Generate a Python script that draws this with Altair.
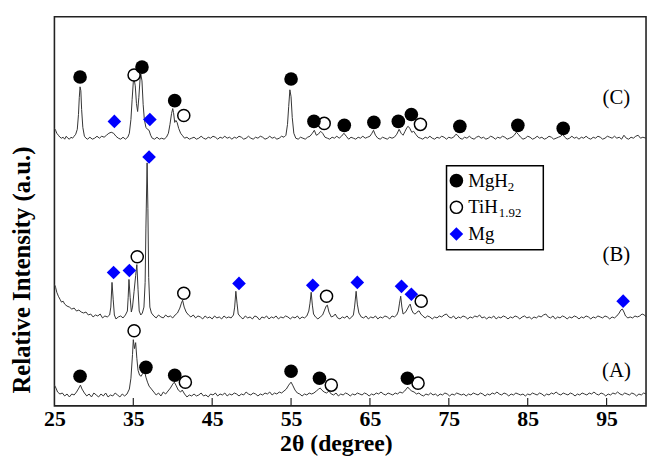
import altair as alt
import pandas as pd

# ---- XRD traces: (2theta, relative intensity, arbitrary units incl. vertical offset) ----
trace_A = [
(25.0,21),(25.2,18),(25.4,14),(25.7,12),(26.0,13),(26.3,10),(26.6,12),(26.9,9),(27.2,12),(27.5,11),(27.8,14),(28.1,18),(28.3,21),(28.5,17),(28.8,13),(29.1,10),(29.4,12),(29.7,9),(30.0,13),(30.3,11),(30.6,9),(30.9,12),(31.2,10),(31.5,13),(31.8,9),(32.1,11),(32.4,10),(32.7,13),(33.0,11),(33.3,9),(33.6,12),(33.9,10),(34.2,12),(34.5,17),(34.7,28),(34.9,52),(35.0,67),(35.15,58),(35.3,64),(35.45,48),(35.6,36),(35.8,31),(36.0,30),(36.2,33),(36.4,36),(36.6,29),(36.8,24),(37.0,20),(37.3,17),(37.6,14),(37.9,11),(38.2,13),(38.5,10),(38.8,14),(39.1,12),(39.4,15),(39.7,18),(40.0,22),(40.2,24),(40.4,21),(40.7,16),(41.0,14),(41.2,16),(41.5,12),(41.8,9),(42.1,11),(42.4,10),(42.7,12),(43.0,10),(43.3,11),(43.6,13),(43.9,10),(44.2,11),(44.5,9),(44.8,12),(45.1,11),(45.4,13),(45.7,10),(46.0,12),(46.3,11),(46.6,13),(46.9,10),(47.2,12),(47.5,11),(47.8,13),(48.1,12),(48.4,10),(48.7,12),(49.0,11),(49.3,14),(49.6,12),(49.9,11),(50.2,13),(50.5,12),(50.8,10),(51.1,12),(51.4,11),(51.7,13),(52.0,12),(52.3,14),(52.6,11),(52.9,13),(53.2,12),(53.5,14),(53.8,13),(54.1,15),(54.4,17),(54.7,21),(55.0,24),(55.2,21),(55.5,16),(55.8,13),(56.1,12),(56.4,10),(56.7,12),(57.0,11),(57.3,13),(57.6,12),(57.9,13),(58.2,15),(58.5,17),(58.7,18),(58.9,16),(59.2,14),(59.5,13),(59.8,15),(60.1,12),(60.4,11),(60.7,13),(61.0,10),(61.3,12),(61.6,11),(61.9,13),(62.2,12),(62.5,10),(62.8,12),(63.1,11),(63.4,13),(63.7,12),(64.0,11),(64.3,13),(64.6,12),(64.9,10),(65.2,12),(65.5,11),(65.8,13),(66.1,12),(66.4,14),(66.7,12),(67.0,11),(67.3,13),(67.6,12),(67.9,11),(68.2,13),(68.5,12),(68.8,14),(69.1,13),(69.4,15),(69.6,17),(69.8,19),(70.0,17),(70.3,15),(70.6,14),(70.9,12),(71.2,13),(71.5,11),(71.8,10),(72.1,12),(72.4,11),(72.7,13),(73.0,11),(73.3,12),(73.6,10),(73.9,12),(74.2,11),(74.5,13),(74.8,12),(75.1,10),(75.4,12),(75.7,11),(76.0,13),(76.3,12),(76.6,11),(76.9,12),(77.2,10),(77.5,12),(77.8,11),(78.1,13),(78.4,12),(78.7,11),(79.0,13),(79.3,12),(79.6,10),(79.9,12),(80.2,11),(80.5,13),(80.8,12),(81.1,14),(81.4,12),(81.7,11),(82.0,13),(82.3,12),(82.6,10),(82.9,12),(83.2,11),(83.5,13),(83.8,12),(84.1,11),(84.4,12),(84.7,10),(85.0,12),(85.3,11),(85.6,13),(85.9,12),(86.2,11),(86.5,13),(86.8,12),(87.1,10),(87.4,12),(87.7,11),(88.0,13),(88.3,12),(88.6,14),(88.9,12),(89.2,11),(89.5,13),(89.8,12),(90.1,11),(90.4,13),(90.7,12),(91.0,10),(91.3,12),(91.6,11),(91.9,13),(92.2,12),(92.5,11),(92.8,13),(93.1,12),(93.4,14),(93.7,12),(94.0,11),(94.3,13),(94.6,12),(94.9,10),(95.2,12),(95.5,11),(95.8,13),(96.1,12),(96.4,14),(96.7,12),(97.0,11),(97.3,13),(97.6,12),(97.9,11),(98.2,13),(98.5,12),(98.8,10),(99.1,12),(99.4,11),(99.7,13),(100.0,12)]

trace_B = [
(25.0,123),(25.15,120),(25.3,115),(25.5,111),(25.7,108),(25.9,105),(26.1,106),(26.3,103),(26.6,101),(26.9,100),(27.2,98),(27.5,99),(27.8,96),(28.1,97),(28.4,95),(28.7,94),(29.0,95),(29.3,92),(29.6,93),(29.9,90),(30.2,92),(30.5,91),(30.8,93),(31.1,89),(31.4,91),(31.7,90),(32.0,92),(32.15,100),(32.3,125),(32.45,108),(32.6,92),(32.8,88),(33.1,90),(33.4,91),(33.7,89),(34.0,92),(34.25,96),(34.35,110),(34.45,128),(34.6,110),(34.75,95),(34.9,100),(35.1,116),(35.3,132),(35.45,143),(35.6,118),(35.75,96),(35.95,92),(36.15,94),(36.35,100),(36.5,125),(36.6,180),(36.75,246),(36.85,200),(36.95,130),(37.1,100),(37.3,94),(37.6,91),(37.9,89),(38.2,92),(38.5,90),(38.8,89),(39.1,92),(39.4,90),(39.7,91),(40.0,89),(40.3,92),(40.6,94),(40.9,99),(41.1,104),(41.25,107),(41.45,100),(41.7,95),(42.0,92),(42.3,90),(42.6,92),(42.9,89),(43.2,91),(43.5,90),(43.8,88),(44.1,91),(44.4,89),(44.7,90),(45.0,88),(45.3,91),(45.6,89),(45.9,90),(46.2,88),(46.5,91),(46.8,89),(47.1,90),(47.4,89),(47.7,92),(47.85,100),(48.0,116),(48.15,104),(48.3,93),(48.6,90),(48.9,88),(49.2,91),(49.5,89),(49.8,90),(50.1,88),(50.4,91),(50.7,90),(51.0,87),(51.3,90),(51.6,89),(51.9,91),(52.2,88),(52.5,90),(52.8,89),(53.1,91),(53.4,88),(53.7,90),(54.0,89),(54.3,91),(54.6,90),(54.9,88),(55.2,90),(55.5,89),(55.8,91),(56.1,88),(56.4,90),(56.7,89),(57.0,91),(57.25,96),(57.4,104),(57.55,115),(57.7,102),(57.85,93),(58.1,90),(58.4,88),(58.7,90),(59.0,92),(59.25,97),(59.45,101),(59.6,102),(59.8,95),(60.1,90),(60.4,91),(60.6,93),(60.9,89),(61.2,88),(61.5,90),(61.8,89),(62.1,91),(62.4,88),(62.7,90),(62.9,92),(63.05,100),(63.25,116),(63.4,103),(63.6,94),(63.9,90),(64.2,89),(64.5,91),(64.8,88),(65.1,90),(65.4,89),(65.7,91),(66.0,88),(66.3,90),(66.6,89),(66.9,91),(67.2,90),(67.5,88),(67.8,91),(68.1,90),(68.4,92),(68.6,96),(68.75,104),(68.9,111),(69.05,100),(69.2,93),(69.4,94),(69.6,96),(69.8,99),(70.0,102),(70.1,103),(70.3,97),(70.5,94),(70.7,93),(70.9,94),(71.1,96),(71.25,96),(71.45,93),(71.7,91),(72.0,89),(72.3,91),(72.6,90),(72.9,88),(73.2,90),(73.5,89),(73.8,91),(74.1,90),(74.4,92),(74.7,93),(75.0,90),(75.3,89),(75.6,91),(75.9,88),(76.2,90),(76.5,89),(76.8,91),(77.1,90),(77.4,88),(77.7,90),(78.0,89),(78.3,91),(78.6,90),(78.9,92),(79.2,89),(79.5,90),(79.8,88),(80.1,90),(80.4,89),(80.7,91),(81.0,88),(81.3,90),(81.6,89),(81.9,91),(82.2,90),(82.5,88),(82.8,90),(83.1,89),(83.4,91),(83.7,90),(84.0,88),(84.3,90),(84.6,91),(84.9,89),(85.2,90),(85.5,88),(85.8,90),(86.1,89),(86.4,91),(86.7,90),(87.0,92),(87.3,93),(87.6,90),(87.9,89),(88.2,91),(88.5,88),(88.8,90),(89.1,89),(89.4,91),(89.7,90),(90.0,88),(90.3,90),(90.6,89),(90.9,91),(91.2,90),(91.5,88),(91.8,90),(92.1,89),(92.4,91),(92.7,90),(93.0,88),(93.3,90),(93.6,89),(93.9,91),(94.2,90),(94.5,89),(94.8,91),(95.1,90),(95.4,88),(95.7,90),(96.0,89),(96.3,91),(96.6,94),(96.8,97),(97.0,98),(97.2,95),(97.4,91),(97.7,89),(98.0,90),(98.3,89),(98.6,91),(98.9,90),(99.2,91),(99.5,93),(99.8,92),(100.0,90)]

trace_C = [
(25.0,281),(25.15,279),(25.3,276),(25.5,274),(25.7,272),(25.9,271),(26.1,272),(26.3,270),(26.5,273),(26.7,271),(26.9,270),(27.1,272),(27.3,271),(27.5,273),(27.7,275),(27.9,280),(28.05,295),(28.15,312),(28.25,323),(28.35,319),(28.45,300),(28.6,282),(28.8,273),(29.0,271),(29.2,270),(29.5,272),(29.8,270),(30.1,271),(30.4,273),(30.7,271),(31.0,273),(31.3,272),(31.6,274),(31.9,276),(32.2,277),(32.5,276),(32.8,273),(33.1,271),(33.4,270),(33.7,272),(34.0,270),(34.3,272),(34.5,276),(34.7,290),(34.85,310),(35.0,328),(35.1,331),(35.25,324),(35.4,306),(35.55,298),(35.7,312),(35.85,330),(35.95,336),(36.1,329),(36.25,305),(36.4,290),(36.6,282),(36.8,280),(37.0,279),(37.2,274),(37.4,271),(37.7,270),(38.0,272),(38.3,270),(38.6,271),(38.9,270),(39.2,272),(39.45,276),(39.65,285),(39.85,296),(40.0,301),(40.1,297),(40.25,287),(40.4,289),(40.55,287),(40.75,281),(41.0,276),(41.2,274),(41.5,271),(41.8,272),(42.1,270),(42.4,271),(42.7,272),(43.0,270),(43.3,271),(43.6,273),(43.9,271),(44.2,270),(44.5,272),(44.8,271),(45.1,273),(45.4,272),(45.7,270),(46.0,272),(46.3,271),(46.6,273),(46.9,271),(47.2,272),(47.5,270),(47.8,272),(48.1,271),(48.4,273),(48.7,272),(49.0,270),(49.3,271),(49.6,273),(49.9,271),(50.2,270),(50.5,272),(50.8,271),(51.1,273),(51.4,272),(51.7,270),(52.0,271),(52.3,273),(52.6,271),(52.9,272),(53.2,270),(53.5,271),(53.8,273),(54.1,272),(54.35,274),(54.55,285),(54.7,303),(54.85,320),(55.0,313),(55.15,292),(55.35,276),(55.6,271),(55.9,270),(56.2,272),(56.5,271),(56.8,270),(57.1,272),(57.4,273),(57.7,276),(57.95,279),(58.2,274),(58.45,275),(58.75,278),(59.0,276),(59.3,272),(59.6,271),(59.9,270),(60.2,272),(60.5,271),(60.8,273),(61.1,271),(61.4,273),(61.7,276),(62.0,273),(62.3,270),(62.6,272),(62.9,271),(63.2,270),(63.5,272),(63.8,271),(64.1,273),(64.4,271),(64.7,272),(65.0,273),(65.25,276),(65.45,279),(65.7,274),(66.0,271),(66.3,270),(66.6,272),(66.9,271),(67.2,270),(67.5,272),(67.8,271),(68.1,272),(68.4,275),(68.7,280),(68.95,276),(69.2,274),(69.45,278),(69.7,282),(69.85,283),(70.05,281),(70.3,277),(70.55,278),(70.8,275),(71.1,272),(71.4,271),(71.7,270),(72.0,272),(72.3,271),(72.6,273),(72.9,271),(73.2,270),(73.5,272),(73.8,271),(74.1,273),(74.4,272),(74.7,270),(75.0,272),(75.3,271),(75.6,272),(75.9,275),(76.1,274),(76.4,271),(76.7,270),(77.0,272),(77.3,271),(77.6,273),(77.9,271),(78.2,270),(78.5,272),(78.8,273),(79.1,271),(79.4,272),(79.7,270),(80.0,271),(80.3,273),(80.6,272),(80.9,270),(81.2,272),(81.5,271),(81.8,273),(82.1,272),(82.4,270),(82.7,271),(83.0,272),(83.3,274),(83.55,277),(83.8,275),(84.1,272),(84.4,270),(84.7,271),(85.0,273),(85.3,272),(85.6,270),(85.9,271),(86.2,273),(86.5,271),(86.8,272),(87.1,270),(87.4,271),(87.7,273),(88.0,272),(88.3,270),(88.6,271),(88.9,272),(89.2,273),(89.45,275),(89.7,272),(90.0,270),(90.3,271),(90.6,273),(90.9,271),(91.2,272),(91.5,270),(91.8,272),(92.1,271),(92.4,273),(92.7,271),(93.0,270),(93.3,272),(93.6,271),(93.9,273),(94.2,272),(94.5,270),(94.8,271),(95.1,273),(95.4,272),(95.7,271),(96.0,273),(96.3,271),(96.6,272),(96.9,270),(97.2,274),(97.5,271),(97.8,270),(98.1,272),(98.4,271),(98.7,273),(99.0,274),(99.3,271),(99.6,272),(100.0,271)]

# ---- phase markers (2theta, intensity) ----
mgh2_marks = [(28.25,30),(36.6,39),(40.25,31),(55.0,35),(58.6,28),(69.75,28),
              (28.25,333),(36.1,343),(40.25,309),(55.0,331),(57.9,288),(61.75,284),
              (65.5,287),(68.6,288),(70.25,295),(76.4,283),(83.75,284),(89.5,281)]
tih_marks = [(35.1,76),(41.6,24),(60.1,21),(71.1,23),
             (35.5,151),(41.4,114),(59.5,111),(71.5,106),
             (35.1,335),(41.4,294),(59.2,286),(71.4,285)]
mg_marks = [(32.5,135),(34.5,137),(37.0,252),(48.4,124),(57.75,122),(63.4,125),
            (69.0,121),(70.25,113),(97.1,106),
            (32.6,288),(37.1,290)]

x_ticks = [25, 35, 45, 55, 65, 75, 85, 95]
inner_ticks = [35, 45, 55, 65, 75, 85, 95]
sample_labels = ["(C)", "(B)", "(A)"]

rows = []
for name, tr in (("A", trace_A), ("B", trace_B), ("C", trace_C)):
    for t, i in tr:
        rows.append({"sample": name, "tt": t, "I": i})
df = pd.DataFrame(rows)

def mk(lst):
    return pd.DataFrame(lst, columns=["tt", "I"])

SERIF = "Liberation Serif"
W, H = 599, 394

xs = alt.Scale(domain=[25, 100], nice=False, zero=False)
ys = alt.Scale(domain=[0, 394], nice=False, zero=True)

base_x = alt.X("tt:Q", scale=xs, axis=alt.Axis(
    values=x_ticks, title="2θ (degree)", grid=False, ticks=False, domain=False,
    labelFont=SERIF, labelFontWeight="bold", labelFontSize=22, labelColor="black",
    labelPadding=3, labelFlush=False,
    titleFont=SERIF, titleFontWeight="bold", titleFontSize=24, titleColor="black",
    titleX=285, titleY=26))
base_y = alt.Y("I:Q", scale=ys, axis=alt.Axis(
    labels=False, ticks=False, grid=False, domain=False,
    title="Relative Intensity (a.u.)", titleFont=SERIF, titleFontWeight="bold",
    titleFontSize=25, titleColor="black", titleX=-20, titleY=256, titleAngle=270))

lines = alt.Chart(df).mark_line(color="#333333", strokeWidth=1).encode(
    x=base_x, y=base_y, detail="sample:N", order="tt:Q")

ticks = alt.Chart(pd.DataFrame({"tt": inner_ticks})).mark_rule(
    color="#222", strokeWidth=1.2).encode(
    x=alt.X("tt:Q", scale=xs), y=alt.value(H), y2=alt.value(H - 8))

filled = alt.Chart(mk(mgh2_marks)).mark_point(
    shape="circle", filled=True, color="black", size=190, opacity=1).encode(
    x=alt.X("tt:Q", scale=xs), y=alt.Y("I:Q", scale=ys))
opened = alt.Chart(mk(tih_marks)).mark_point(
    shape="circle", filled=False, fill="white", fillOpacity=1, stroke="black",
    strokeWidth=1.5, size=150, opacity=1).encode(
    x=alt.X("tt:Q", scale=xs), y=alt.Y("I:Q", scale=ys))
diam = alt.Chart(mk(mg_marks)).mark_point(
    shape="diamond", filled=True, color="#0000ff", size=190, opacity=1).encode(
    x=alt.X("tt:Q", scale=xs), y=alt.Y("I:Q", scale=ys))

one = pd.DataFrame({"k": [0]})

def txt(s, x, y, size=20, align="center", weight="normal"):
    return alt.Chart(one).mark_text(
        font=SERIF, fontSize=size, align=align, baseline="middle",
        color="black", fontWeight=weight).encode(
        x=alt.value(x), y=alt.value(y), text=alt.value(s))

labels = [txt(sample_labels[0], 569, 82, 21), txt(sample_labels[1], 569, 241, 21),
          txt(sample_labels[2], 569, 359, 21)]

legend_box = alt.Chart(one).mark_rect(fill="white", stroke="black", strokeWidth=1.5).encode(
    x=alt.value(397), x2=alt.value(495), y=alt.value(151), y2=alt.value(236))
leg_f = alt.Chart(one).mark_point(shape="circle", filled=True, color="black", size=190,
                                  opacity=1).encode(x=alt.value(407), y=alt.value(166))
leg_o = alt.Chart(one).mark_point(shape="circle", filled=False, stroke="black",
                                  strokeWidth=1.5, size=150, opacity=1).encode(
    x=alt.value(407), y=alt.value(193))
leg_d = alt.Chart(one).mark_point(shape="diamond", filled=True, color="#0000ff", size=190,
                                  opacity=1).encode(x=alt.value(407), y=alt.value(220))
leg_t = [txt("MgH", 419, 166, 19, "left"), txt("2", 459, 172, 13, "left"),
         txt("TiH", 419, 193, 19, "left"), txt("1.92", 450, 199, 13, "left"),
         txt("Mg", 419, 220, 19, "left")]

chart = alt.layer(lines, ticks, opened, filled, diam, *labels,
                  legend_box, leg_f, leg_o, leg_d, *leg_t).properties(
    width=W, height=H,
    autosize=alt.AutoSizeParams(type="none"),
    padding={"left": 47, "top": 6, "right": 2, "bottom": 52},
    background="white",
).configure_view(stroke="#222", strokeWidth=1.6)

chart.save("out.html", embed_options={"renderer": "svg", "actions": False})
